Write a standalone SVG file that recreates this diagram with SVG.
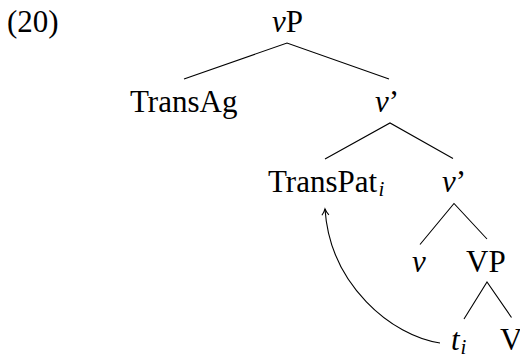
<svg xmlns="http://www.w3.org/2000/svg" width="520" height="354" viewBox="0 0 520 354">
<defs>
<style>
text{font-family:'Liberation Serif','Times New Roman',serif;font-size:31px;fill:#000}
.it{font-style:italic}
.sub{font-size:21px;font-style:italic}
.edge{stroke:#000;stroke-width:1.1;fill:none}
</style>
<marker id="ah" markerWidth="12" markerHeight="12" refX="9" refY="6" orient="auto" markerUnits="userSpaceOnUse">
<path d="M3,2.5 Q6,5 9,6 Q6,7 3,9.5" fill="none" stroke="#000" stroke-width="1.1"/>
</marker>
</defs>
<rect width="520" height="354" fill="#fff"/>
<text x="7" y="32">(20)</text>
<g id="vP"><text x="272" y="32"><tspan class="it">v</tspan>P</text></g>
<g id="TransAg"><text x="130" y="111.5">TransAg</text></g>
<g id="vbar1"><text x="375" y="111.5"><tspan class="it">v</tspan>’</text></g>
<g id="TransPat"><text x="268" y="191.5">TransPat</text><text class="sub" x="378.5" y="196">i</text></g>
<g id="vbar2"><text x="442" y="191.5"><tspan class="it">v</tspan>’</text></g>
<g id="v"><text class="it" x="412" y="271.5">v</text></g>
<g id="VP"><text x="466" y="271.5">VP</text></g>
<g id="ti"><text class="it" x="451" y="350">t</text><text class="sub" x="460.5" y="354">i</text></g>
<g id="V"><text x="500" y="350">V</text></g>
<g id="connectors">
<path class="edge" d="M184,79 L287,43 L389,79"/>
<path class="edge" d="M325,159 L390,123 L453,158.5"/>
<path class="edge" d="M420,244.5 L454,203.5 L487,239"/>
<path class="edge" d="M464,319 L487,282 L511.5,317.5"/>
<path class="edge" d="M440,343 C392,336 330,285 325,209" marker-end="url(#ah)"/>
</g>
</svg>
